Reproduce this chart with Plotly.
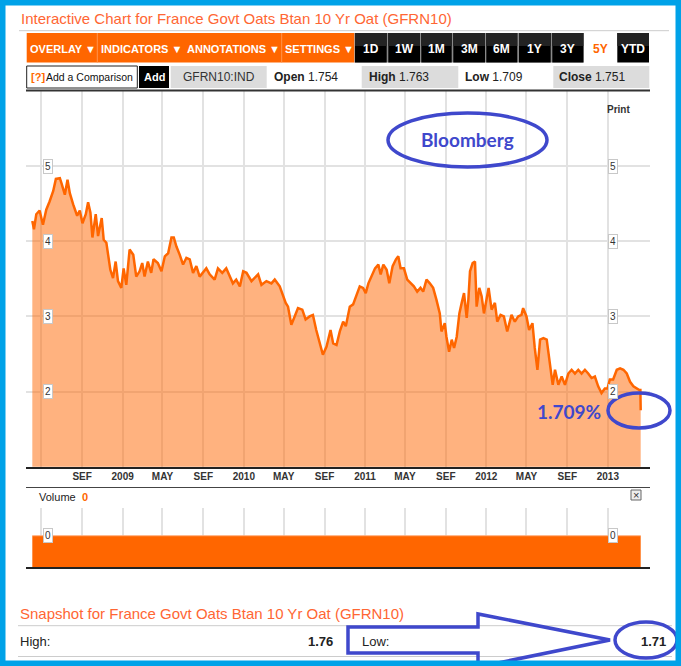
import plotly.graph_objects as go

W, H = 681, 666

# ---------------- data ----------------
DATES = [
    "2008-04-04","2008-04-09","2008-04-16","2008-04-26","2008-05-06","2008-05-16","2008-05-26","2008-06-06",
    "2008-06-14","2008-06-26","2008-07-01","2008-07-11","2008-07-19","2008-07-26","2008-08-05","2008-08-17",
    "2008-08-25","2008-09-02","2008-09-12","2008-09-19","2008-09-26","2008-10-02","2008-10-12","2008-10-19",
    "2008-10-30","2008-11-05","2008-11-13","2008-11-25","2008-12-03","2008-12-11","2008-12-18","2008-12-28",
    "2009-01-04","2009-01-12","2009-01-22","2009-02-02","2009-02-11","2009-02-21","2009-03-01","2009-03-08",
    "2009-03-18","2009-03-28","2009-04-04","2009-04-17","2009-04-28","2009-05-08","2009-05-18","2009-05-28",
    "2009-06-04","2009-06-12","2009-06-22","2009-07-02","2009-07-12","2009-07-22","2009-08-01","2009-08-11",
    "2009-08-21","2009-08-31","2009-09-10","2009-09-20","2009-10-05","2009-10-15","2009-10-28","2009-11-09",
    "2009-11-19","2009-11-29","2009-12-09","2009-12-20","2009-12-30",
    "2010-01-09","2010-01-24","2010-02-03","2010-02-13","2010-02-23","2010-03-10","2010-03-25","2010-04-04",
    "2010-04-19","2010-04-29","2010-05-07","2010-05-14","2010-05-24","2010-06-03","2010-06-13","2010-06-26",
    "2010-07-06","2010-07-18","2010-07-28","2010-08-07","2010-08-17","2010-08-27","2010-09-07","2010-09-19",
    "2010-09-27","2010-10-07","2010-10-17","2010-10-27","2010-11-04","2010-11-16","2010-11-26","2010-12-06",
    "2010-12-16","2010-12-26",
    "2011-01-03","2011-01-11","2011-01-21","2011-01-31","2011-02-10","2011-02-17","2011-02-25","2011-03-07",
    "2011-03-15","2011-03-25","2011-04-04","2011-04-11","2011-04-18","2011-04-28","2011-05-08","2011-05-18",
    "2011-05-28","2011-06-07","2011-06-17","2011-06-25","2011-07-05","2011-07-15","2011-07-25","2011-08-04",
    "2011-08-14","2011-08-19","2011-08-29","2011-09-03","2011-09-11","2011-09-19","2011-09-26","2011-10-04",
    "2011-10-12","2011-10-19","2011-10-26","2011-11-03","2011-11-08","2011-11-13","2011-11-21","2011-11-28",
    "2011-12-03","2011-12-11","2011-12-18","2011-12-25",
    "2012-01-02","2012-01-08","2012-01-17","2012-01-27","2012-02-03","2012-02-13","2012-02-23","2012-03-04",
    "2012-03-17","2012-03-27","2012-04-06","2012-04-16","2012-04-21","2012-05-01","2012-05-09","2012-05-19",
    "2012-05-26","2012-06-03","2012-06-11","2012-06-21","2012-07-01","2012-07-09","2012-07-19","2012-07-26",
    "2012-08-05","2012-08-15","2012-08-25","2012-09-04","2012-09-14","2012-09-24","2012-10-04","2012-10-14",
    "2012-10-24","2012-11-03","2012-11-13","2012-11-23","2012-12-03","2012-12-13","2012-12-23","2012-12-31",
    "2013-01-07","2013-01-17","2013-01-28","2013-02-07","2013-02-17","2013-02-27","2013-03-09","2013-03-19",
    "2013-03-29","2013-04-06","2013-04-09","2013-04-10",
]
YIELD = [
    4.27,4.16,4.36,4.41,4.22,4.42,4.53,4.67,
    4.83,4.84,4.77,4.62,4.82,4.64,4.49,4.34,
    4.41,4.24,4.36,4.52,4.38,4.05,4.36,4.07,
    4.31,4.02,3.98,3.62,3.51,3.73,3.47,3.38,
    3.64,3.42,3.89,3.82,3.53,3.60,3.71,3.53,
    3.73,3.58,3.76,3.71,3.60,3.80,3.84,4.05,
    4.05,3.93,3.82,3.69,3.78,3.76,3.58,3.67,
    3.53,3.58,3.64,3.56,3.49,3.64,3.58,3.64,
    3.53,3.44,3.49,3.40,3.60,
    3.58,3.47,3.51,3.56,3.42,3.47,3.44,3.49,
    3.40,3.29,3.18,3.13,2.89,3.00,3.11,3.09,
    2.96,3.00,3.02,2.82,2.64,2.49,2.60,2.82,
    2.64,2.62,2.80,2.93,2.87,3.13,3.16,3.29,
    3.40,3.38,
    3.31,3.44,3.53,3.64,3.69,3.56,3.69,3.62,
    3.44,3.67,3.76,3.80,3.64,3.64,3.49,3.44,
    3.40,3.33,3.38,3.33,3.49,3.44,3.38,3.22,
    3.04,2.80,2.91,2.73,2.53,2.69,2.58,2.73,
    3.04,3.18,3.31,2.98,3.22,3.60,3.71,3.73,
    3.13,3.38,3.27,3.04,
    3.22,3.38,3.09,3.18,2.93,3.02,3.00,2.80,
    3.02,2.93,3.00,3.02,3.11,3.00,2.82,2.91,
    2.58,2.29,2.69,2.71,2.69,2.40,2.09,2.29,
    2.09,2.20,2.09,2.24,2.29,2.24,2.29,2.24,
    2.29,2.24,2.18,2.20,2.07,1.98,2.04,2.04,
    2.16,2.16,2.29,2.31,2.29,2.24,2.13,2.07,
    2.04,2.02,2.02,1.75,
]
VOLUME_DATES = ["2008-04-04", "2013-04-10"]
VOLUME = [0, 0]

TICK_DATES = ["2008-05-01","2008-09-01","2009-01-01","2009-05-01","2009-09-01","2010-01-01","2010-05-01",
              "2010-09-01","2011-01-01","2011-05-01","2011-09-01","2012-01-01","2012-05-01","2012-09-01","2013-01-01"]
TICK_TEXT = ["","SEF","2009","MAY","SEF","2010","MAY","SEF","2011","MAY","SEF","2012","MAY","SEF","2013"]
Y_TICKS = [2, 3, 4, 5]

MENU = ["OVERLAY ▼", "INDICATORS ▼", "ANNOTATIONS ▼", "SETTINGS ▼"]
RANGES = ["1D","1W","1M","3M","6M","1Y","3Y","5Y","YTD"]
SYMBOL = "GFRN10:IND"
OPEN, HIGH, LOW, CLOSE = "1.754", "1.763", "1.709", "1.751"
SNAP_HIGH, SNAP_LOW = "1.76", "1.71"
TITLE = "Interactive Chart for France Govt Oats Btan 10 Yr Oat (GFRN10)"
SNAP_TITLE = "Snapshot for France Govt Oats Btan 10 Yr Oat (GFRN10)"

# ---------------- helpers ----------------
F = "Liberation Sans, Arial, sans-serif"
FN = "Liberation Sans Narrow, Arial Narrow, Liberation Sans, sans-serif"
FB = "Lato, Open Sans, sans-serif"
ORANGE = "#FF6600"
BLUE = "#3F48CC"

def px(x): return x / W
def py(y): return 1 - y / H

shapes, annotations = [], []

def rect(x0, y0, x1, y1, fill, line=None, lw=0, layer="below"):
    shapes.append(dict(type="rect", xref="paper", yref="paper", x0=px(x0), x1=px(x1),
                       y0=py(y1), y1=py(y0), fillcolor=fill,
                       line=dict(color=line or fill, width=lw), layer=layer))

def hline(x0, x1, y, color, w=1):
    shapes.append(dict(type="line", xref="paper", yref="paper", x0=px(x0), x1=px(x1),
                       y0=py(y), y1=py(y), line=dict(color=color, width=w), layer="above"))

def ellipse(x0, y0, x1, y1, color=BLUE, w=3.5):
    shapes.append(dict(type="circle", xref="paper", yref="paper", x0=px(x0), x1=px(x1),
                       y0=py(y1), y1=py(y0), line=dict(color=color, width=w), layer="above"))

def txt(x, y, s, size=12, color="#333", anchor="left", family=F, weight="normal", **kw):
    d = dict(x=px(x), y=py(y), xref="paper", yref="paper", text=s, showarrow=False,
             xanchor=anchor, yanchor="middle",
             font=dict(size=size, color=color, family=family, weight=weight))
    d.update(kw)
    annotations.append(d)

# ---------------- header ----------------
txt(19, 19, TITLE, size=15, color="#FF6633")
hline(19, 669, 30.7, "#cccccc", 1)

# toolbar
rect(26.7, 33, 354.5, 62.5, ORANGE)
for xd in (97.3, 281.7):
    shapes.append(dict(type="line", xref="paper", yref="paper", x0=px(xd), x1=px(xd),
                       y0=py(62.5), y1=py(33), line=dict(color="#FF944D", width=1)))
menu_cx = [63, 141.5, 233, 319]
for s, cx in zip(MENU, menu_cx):
    txt(cx, 48.5, s, size=11, color="white", anchor="center", weight="bold")

rect(354.5, 33, 584, 62.5, "#8a8a8a")
btn_x = [(355, 386.7), (388.3, 420), (421.3, 451.7), (453.3, 485), (486.3, 517.3),
         (519, 550.7), (552.3, 583.3), (584.3, 616), (617.3, 649)]
for s, (a, b) in zip(RANGES, btn_x):
    if s == "5Y":
        txt((a + b) / 2, 48.5, s, size=12, color=ORANGE, anchor="center", weight="bold")
        continue
    rect(a, 33, b, 62.5, "#000000")
    rect(a, 33, b, 46, "#232323")
    txt((a + b) / 2, 48.5, s, size=12, color="white", anchor="center", weight="bold")

# second row
rect(26.7, 66, 137.3, 88, "white", line="#222", lw=1)
txt(28.5, 77, "[?]", size=11, color=ORANGE, weight="bold")
txt(44, 77, "Add a Comparison", size=10.5, color="#111")
rect(139, 66, 169, 88, "#000000")
txt(154, 77, "Add", size=11, color="white", anchor="center", weight="bold")
rect(170.7, 66, 266.7, 88, "#dcdcdc")
txt(218.7, 77, SYMBOL, size=12, color="#333", anchor="center")
txt(272, 77, "<b>Open</b> " + OPEN, size=12, color="#222")
rect(361.7, 66, 458.3, 88, "#dcdcdc")
txt(366.7, 77, "<b>High</b> " + HIGH, size=12, color="#222")
txt(462.7, 77, "<b>Low</b> " + LOW, size=12, color="#222")
rect(553.3, 66, 649.3, 88, "#dcdcdc")
txt(557.3, 77, "<b>Close</b> " + CLOSE, size=12, color="#222")
hline(26, 650, 90.5, "#333333", 2)

txt(618, 110, "Print", size=10, color="#333", anchor="center", weight="bold")

# ---------------- traces ----------------
fig = go.Figure()
fig.add_trace(go.Scatter(x=DATES, y=YIELD, mode="lines",
                         line=dict(color=ORANGE, width=2.5), fill="tozeroy",
                         fillcolor="rgba(255,102,0,0.5)", hoverinfo="skip",
                         xaxis="x", yaxis="y"))
VOL_AXIS_MIN = -1
fig.add_trace(go.Scatter(x=VOLUME_DATES, y=[VOL_AXIS_MIN] * len(VOLUME_DATES), mode="lines",
                         line=dict(width=0, color=ORANGE), hoverinfo="skip",
                         xaxis="x2", yaxis="y2"))
fig.add_trace(go.Scatter(x=VOLUME_DATES, y=VOLUME, mode="lines",
                         line=dict(width=1, color="#FFB080"), fill="tonexty",
                         fillcolor=ORANGE, hoverinfo="skip", xaxis="x2", yaxis="y2"))

# y tick boxes
for v in Y_TICKS:
    for xx in (47.5, 612.5):
        annotations.append(dict(x=px(xx), y=v, xref="paper", yref="y", text=str(v),
                                showarrow=False, xanchor="center", yanchor="middle",
                                font=dict(size=10, color="#333", family=F),
                                bgcolor="white", bordercolor="#c8c8c8", borderwidth=1, borderpad=1))
for xx in (47.5, 612.5):
    annotations.append(dict(x=px(xx), y=0, xref="paper", yref="y2", text="0",
                            showarrow=False, xanchor="center", yanchor="middle",
                            font=dict(size=10, color="#333", family=F),
                            bgcolor="white", bordercolor="#c8c8c8", borderwidth=1, borderpad=1))

# volume pane decorations
hline(26, 650, 487.5, "#444444", 1)
txt(37, 497, "Volume", size=11, color="#222")
txt(80, 497, "0", size=11, color=ORANGE, weight="bold")
rect(631, 490, 641, 500, "#eeeeee", line="#666", lw=1, layer="above")
txt(636, 494.5, "×", size=11, color="#333", anchor="center")

# ---------------- annotations (blue marks) ----------------
ellipse(388, 113, 547, 167)
txt(467.5, 139, "Bloomberg", size=19, color=BLUE, anchor="center", family=FB, weight="bold")
txt(568.5, 411, "1.709%", size=19, color=BLUE, anchor="center", family=FB, weight="bold")
ellipse(608, 393, 670, 428)

# ---------------- snapshot ----------------
txt(18, 613, SNAP_TITLE, size=15, color="#FF6633")
hline(18, 672, 625.7, "#cccccc", 1)
hline(18, 672, 656.5, "#cccccc", 1)
txt(18, 641, "High:", size=13, color="#222")
txt(335, 641, SNAP_HIGH, size=13, color="#222", anchor="right", weight="bold")
txt(360, 641, "Low:", size=13, color="#222")
txt(668, 641, SNAP_LOW, size=13, color="#222", anchor="right", weight="bold")

pts = [(348, 627), (478, 627), (478, 614), (610, 640), (478, 667), (478, 653), (348, 653)]
path = "M " + " L ".join(f"{px(a):.5f},{py(b):.5f}" for a, b in pts) + " Z"
shapes.append(dict(type="path", xref="paper", yref="paper", path=path,
                   line=dict(color=BLUE, width=3.5), layer="above"))
ellipse(615, 622, 677, 658)

# blue frame
shapes.append(dict(type="rect", xref="paper", yref="paper", x0=0, x1=1, y0=0, y1=1,
                   line=dict(color="#00A2E8", width=11), layer="above"))

XR = ["2008-03-16", "2013-05-08"]
grid = "#e2e2e2"
fig.update_layout(
    width=W, height=H, autosize=False, margin=dict(l=0, r=0, t=0, b=0, pad=0),
    paper_bgcolor="white", plot_bgcolor="rgba(0,0,0,0)", showlegend=False,
    xaxis=dict(domain=[px(26), px(650)], range=XR, type="date", anchor="y",
               tickmode="array", tickvals=TICK_DATES, ticktext=TICK_TEXT,
               showgrid=True, gridcolor=grid, gridwidth=1.5, ticks="",
               showline=True, linecolor="#222", linewidth=1.5, zeroline=False,
               tickfont=dict(family=FN, size=10, color="#333", weight="bold")),
    yaxis=dict(domain=[py(466.7), py(91)], range=[1, 6], anchor="x",
               tickmode="array", tickvals=Y_TICKS, showticklabels=False,
               showgrid=True, gridcolor=grid, gridwidth=1.5, zeroline=False, ticks=""),
    xaxis2=dict(domain=[px(26), px(650)], range=XR, type="date", anchor="y2",
                tickmode="array", tickvals=TICK_DATES, showticklabels=False,
                showgrid=True, gridcolor=grid, gridwidth=1.5, ticks="",
                showline=True, linecolor="#222", linewidth=1.5, zeroline=False),
    yaxis2=dict(domain=[py(567.3), py(508)], range=[VOL_AXIS_MIN, 0.877], anchor="x2",
                showgrid=False, zeroline=False, showticklabels=False, ticks=""),
    shapes=shapes, annotations=annotations,
)

fig.write_html("out.html", config={"displayModeBar": False},
               post_script="document.body.style.margin='0px';document.body.style.overflow='hidden';")
